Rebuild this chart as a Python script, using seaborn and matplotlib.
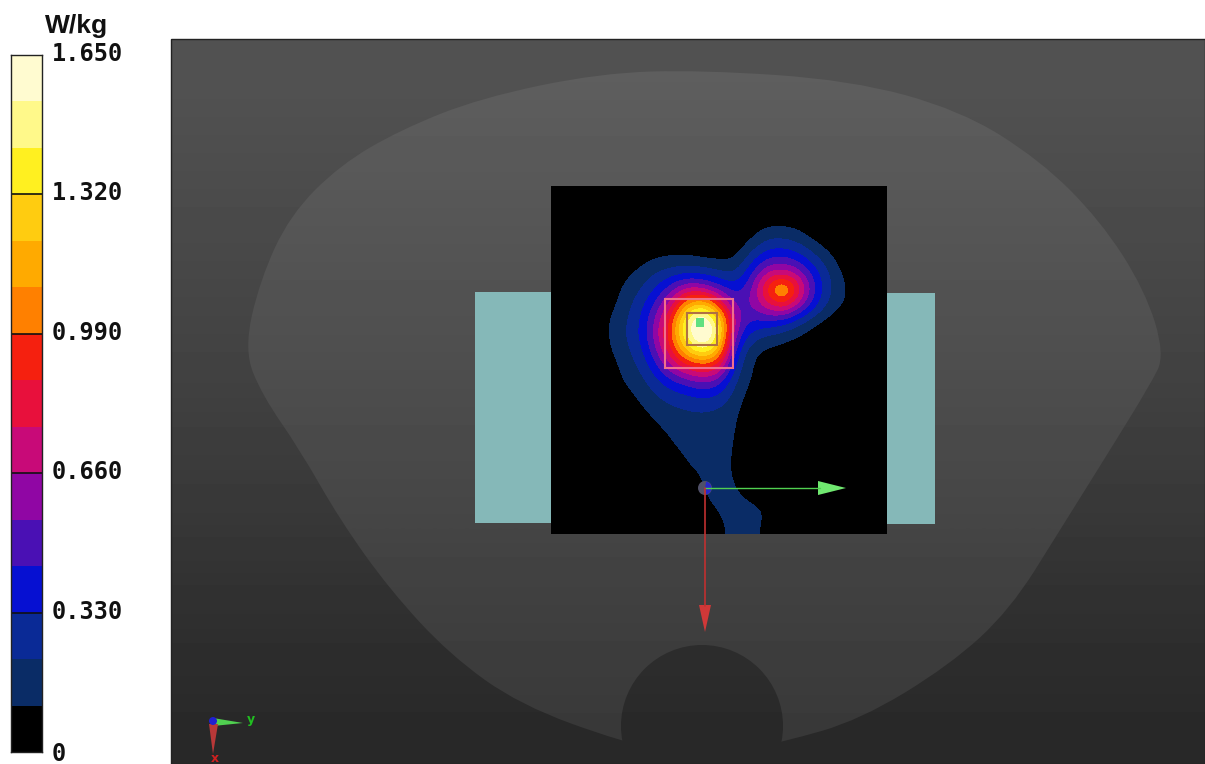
import numpy as np
import matplotlib
matplotlib.use('Agg')
import matplotlib.pyplot as plt
import seaborn as sns
from matplotlib.colors import ListedColormap, BoundaryNorm
from matplotlib.patches import Polygon, Rectangle, Circle, Wedge, PathPatch
from matplotlib.path import Path

# colour bands of the scale, low to high
band_colors = ['#000000', '#0a2c66', '#0a2a96', '#0610d2', '#4a10b4', '#9006a4', '#c80a78', '#e8103c',
               '#f5200f', '#ff8000', '#ffaa00', '#ffcc10', '#fff020', '#fff98a', '#fffbd0']
band_edges = [0, 0.11, 0.22, 0.33, 0.44, 0.55, 0.66, 0.77, 0.88, 0.99, 1.10, 1.21, 1.32, 1.43, 1.54, 1.65]
scale_values = [1.65, 1.32, 0.99, 0.66, 0.33, 0]
scale_labels = ['1.650', '1.320', '0.990', '0.660', '0.330', '0']

# SAR, W/kg, one list per column, top to bottom
sar_blank = [0] * 22
sar_c607 = [0, 0, 0, 0, 0, 0, .01, .05, .10, .10, .08, .03, 0, 0, 0, 0, 0, 0, 0, 0, 0, 0]
sar_c623 = [0, 0, 0, 0, 0, .07, .13, .16, .19, .20, .17, .14, .11, .04, 0, 0, 0, 0, 0, 0, 0, 0]
sar_c639 = [0, 0, 0, 0, .05, .14, .20, .27, .31, .32, .27, .22, .16, .12, .06, .01, 0, 0, 0, 0, 0, 0]
sar_c655 = [0, 0, 0, .01, .10, .22, .33, .46, .56, .58, .50, .38, .27, .19, .13, .08, .02, 0, 0, 0, 0, 0]
sar_c671 = [0, 0, 0, .02, .12, .27, .50, .72, .92, .98, .85, .62, .38, .25, .17, .13, .10, .03, 0, 0, 0, 0]
sar_c687 = [0, 0, 0, .02, .12, .31, .70, 1.15, 1.50, 1.48, 1.22, .80, .45, .28, .19, .16, .14, .12, .07, .02, 0, 0]
sar_c703 = [0, 0, 0, .01, .09, .29, .66, 1.30, 1.78, 1.82, 1.40, .88, .53, .31, .20, .16, .14, .13, .12, .115, .08, .02]
sar_c719 = [0, 0, 0, .01, .08, .24, .50, .95, 1.38, 1.42, 1.20, .80, .46, .28, .18, .15, .14, .13, .13, .13, .12, .10]
sar_c735 = [0, 0, 0, .02, .09, .20, .38, .50, .62, .52, .38, .28, .21, .17, .14, .125, .115, .11, .115, .13, .13, .13]
sar_c751 = [0, 0, .03, .12, .27, .42, .52, .55, .42, .28, .13, .12, .10, .05, .01, 0, 0, 0, .02, .09, .14, .14]
sar_c767 = [0, 0, .10, .24, .42, .68, .95, .75, .45, .20, .08, .02, 0, 0, 0, 0, 0, 0, 0, .03, .115, .09]
sar_c783 = [0, 0, .10, .25, .45, .72, 1.30, .90, .40, .16, .05, 0, 0, 0, 0, 0, 0, 0, 0, 0, 0, 0]
sar_c799 = [0, 0, .08, .20, .38, .62, .85, .65, .28, .10, .02, 0, 0, 0, 0, 0, 0, 0, 0, 0, 0, 0]
sar_c815 = [0, 0, 0, .11, .24, .38, .45, .36, .15, .03, 0, 0, 0, 0, 0, 0, 0, 0, 0, 0, 0, 0]
sar_c831 = [0, 0, 0, .03, .13, .20, .21, .18, .06, 0, 0, 0, 0, 0, 0, 0, 0, 0, 0, 0, 0, 0]
sar_c847 = [0, 0, 0, 0, .01, .07, .11, .09, .01, 0, 0, 0, 0, 0, 0, 0, 0, 0, 0, 0, 0, 0]
sar_columns = [sar_blank, sar_blank, sar_blank, sar_c607, sar_c623, sar_c639, sar_c655, sar_c671, sar_c687,
               sar_c703, sar_c719, sar_c735, sar_c751, sar_c767, sar_c783, sar_c799, sar_c815, sar_c831,
               sar_c847, sar_blank, sar_blank]

# phantom outline (spline control points) and shading
body_x = [702, 600, 480, 400, 340, 290, 260, 244, 262, 300, 340, 390, 450, 520, 622, 702,
          783, 860, 950, 1010, 1060, 1110, 1150, 1165, 1145, 1100, 1040, 960, 850]
body_y = [70, 73, 98, 130, 165, 215, 280, 350, 395, 450, 520, 590, 655, 705, 742, 760,
          742, 720, 665, 610, 530, 450, 385, 355, 290, 220, 160, 110, 80]
bg_shade = [82, 78, 74, 70, 66, 61, 56, 50, 45, 41]
body_shade = [94, 90, 86, 82, 78, 74, 70, 65, 61, 57]

sns.set_theme(style='white')
fig = plt.figure(figsize=(12.05, 7.64), dpi=100, facecolor='white')
ax = fig.add_axes([0, 0, 1, 1])
ax.set_axis_off()

# background and phantom
grey = dict(cmap='gray', vmin=0, vmax=255, aspect='auto', interpolation='bilinear', extent=(171, 1205, 764, 39))
ax.imshow(np.array(bg_shade).reshape(-1, 1), **grey)
body_img = ax.imshow(np.array(body_shade).reshape(-1, 1), **grey)

# closed quadratic spline through the outline
pts = np.column_stack([body_x, body_y]).astype(float)
mids = (pts + np.roll(pts, -1, axis=0)) / 2
verts = [mids[-1]]
codes = [Path.MOVETO]
for p, m in zip(pts, mids):
    verts += [p, m]
    codes += [Path.CURVE3, Path.CURVE3]
body_patch = PathPatch(Path(verts, codes), transform=ax.transData, fc='none', ec='none')
ax.add_patch(body_patch)
body_img.set_clip_path(body_patch)

# notch under the phantom
notch_img = ax.imshow(np.array(bg_shade).reshape(-1, 1), **grey)
notch_patch = Circle((702, 726), 81, transform=ax.transData, fc='none', ec='none')
ax.add_patch(notch_patch)
notch_img.set_clip_path(notch_patch)
ax.add_patch(Rectangle((171, 39), 1034, 725, fill=False, ec='#222222', lw=1))

# spacer blocks
ax.add_patch(Rectangle((475, 292), 76, 231, fc='#85b8b8', ec='none'))
ax.add_patch(Rectangle((887, 293), 48, 231, fc='#85b8b8', ec='none'))

# SAR map
cmap = ListedColormap(band_colors)
norm = BoundaryNorm(band_edges, cmap.N, clip=True)
ax.imshow(np.array(sar_columns).T, cmap=cmap, norm=norm, aspect='auto', interpolation='bicubic',
          interpolation_stage='data', extent=(551, 887, 534, 186))

# peak search boxes
ax.add_patch(Rectangle((665, 299), 68, 69, fill=False, ec='#f0708c', lw=1.5))
ax.add_patch(Rectangle((687, 313), 30, 32, fill=False, ec='#b07044', lw=1.5))
ax.add_patch(Rectangle((696, 318), 8, 9, fc='#60e080', ec='none'))

# axes triad on the map
ax.plot([705, 820], [488, 488], color='#50d050', lw=1)
ax.add_patch(Polygon([(818, 481), (818, 495), (846, 488)], fc='#70e870', ec='none'))
ax.plot([705, 705], [488, 606], color='#c03030', lw=1.2)
ax.add_patch(Polygon([(699, 605), (711, 605), (705, 632)], fc='#d03838', ec='none'))
ax.add_patch(Circle((705, 488), 7, fc='#505068', ec='none'))
ax.add_patch(Wedge((705, 488), 6.5, -80, 80, fc='#2828c8', ec='none'))

# small triad bottom left
ax.add_patch(Polygon([(213, 718), (213, 726), (243, 723)], fc='#50d050', ec='none'))
ax.add_patch(Polygon([(209, 724), (218, 724), (213, 754)], fc='#b83838', ec='none'))
ax.add_patch(Circle((213, 721), 4, fc='#2020d0', ec='none'))
ax.text(251, 720, 'y', color='#20c020', fontsize=9, fontweight='bold', ha='center', va='center', family='DejaVu Sans')
ax.text(215, 758, 'x', color='#d02020', fontsize=9, fontweight='bold', ha='center', va='center', family='DejaVu Sans')

ax.set_xlim(0, 1205)
ax.set_ylim(764, 0)

# colour scale
cax = fig.add_axes([11 / 1205, 1 - 752 / 764, 31 / 1205, 697 / 764])
sns.heatmap(np.array(band_edges[:-1])[::-1].reshape(-1, 1), cmap=cmap, norm=norm, cbar=False,
            xticklabels=False, yticklabels=False, ax=cax)
for name, spine in cax.spines.items():
    spine.set_visible(True)
    spine.set_color('#222222')
    spine.set_linewidth(1)
for v in scale_values[1:-1]:
    cax.axhline((1.65 - v) / 0.11, color='#111111', lw=1.2)

for v, lab in zip(scale_values, scale_labels):
    ypix = 752 - v / 1.65 * 697
    ax.text(52, ypix - (1 if v > 0 else -2), lab, fontsize=17, fontweight='bold', family='DejaVu Sans Mono',
            color='#111111', ha='left', va='center')
ax.text(45, 26, 'W/kg', fontsize=19, fontweight='bold', family='Liberation Sans', color='#111111', ha='left', va='center')

fig.savefig('out.png', dpi=100, facecolor='white')
